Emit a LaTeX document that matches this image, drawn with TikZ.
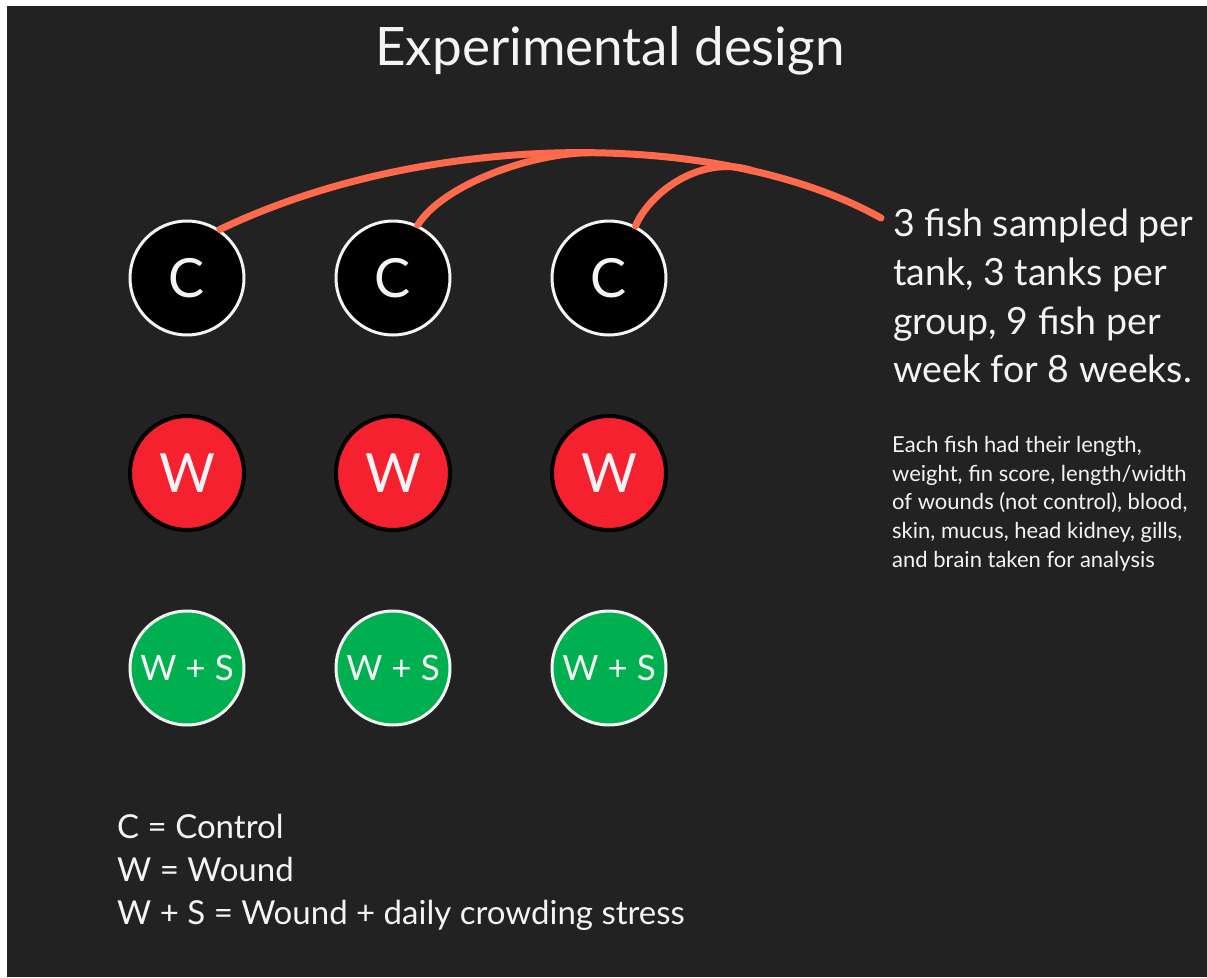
\documentclass[tikz,border=0pt]{standalone}
\usepackage{fontspec}
\setmainfont{Lato}
\usepackage{tikz}
\usetikzlibrary{calc}

\definecolor{bgdark}{HTML}{222222}
\definecolor{linkorange}{HTML}{FF6A4D}
\definecolor{woundred}{HTML}{F6212F}
\definecolor{stressgreen}{HTML}{00B050}
\definecolor{offwhite}{HTML}{F4F4F4}

\tikzset{
    tank/.style={circle, minimum size=114pt, inner sep=0pt, line width=3pt, text=offwhite},
    ctank/.style={tank, fill=black, draw=offwhite, font=\fontsize{54}{60}\selectfont},
    wtank/.style={tank, fill=woundred, draw=black, line width=4pt, font=\fontsize{54}{60}\selectfont},
    stank/.style={tank, fill=stressgreen, draw=offwhite, font=\fontsize{35}{40}\selectfont},
    link/.style={draw=linkorange, line width=7pt, line cap=round},
    plaintext/.style={text=offwhite, inner sep=0pt, align=left},
}

\begin{document}
\begin{tikzpicture}[x=1pt, y=-1pt]
    % page and dark panel
    \fill[white] (0,0) rectangle (1207,977);
    \fill[bgdark] (7,6) rectangle (1207,977);

    \node[plaintext, anchor=base, font=\fontsize{53}{60}\selectfont] (title) at (610,65) {Experimental design};

    % three tanks per group
    \foreach \i/\x in {1/187, 2/393, 3/609} {
        \node[ctank] (c\i) at (\x,278) {C};
        \node[wtank] (w\i) at (\x,473) {W};
        \node[stank] (s\i) at (\x,668) {W + S};
    }

    \node[plaintext, anchor=north west, font=\fontsize{37.5}{48.7}\selectfont] (info) at (893,209)
        {3 fish sampled per\\tank, 3 tanks per\\group, 9 fish per\\week for 8 weeks.};
    \node[plaintext, anchor=north west, font=\fontsize{22}{28.7}\selectfont] (detail) at (892,436)
        {Each fish had their length,\\weight, fin score, length/width\\of wounds (not control), blood,\\skin, mucus, head kidney, gills,\\and brain taken for analysis};

    \node[plaintext, anchor=north west, font=\fontsize{33}{43}\selectfont] (legend) at (117,814)
        {C = Control\\W = Wound\\W + S = Wound + daily crowding stress};

    % sampling links
    \draw[link] (c1.56) .. controls (430,129) and (722,129) .. ($(info.north west)+(-12,9)$)
        coordinate[pos=0.53] (j2) coordinate[pos=0.77] (j3);
    \draw[link] (c2.65) .. controls +(25,-40) and +(-60,0) .. (j2);
    \draw[link] (c3.63) .. controls +(15,-35) and +(-50,-17) .. (j3);
\end{tikzpicture}
\end{document}
